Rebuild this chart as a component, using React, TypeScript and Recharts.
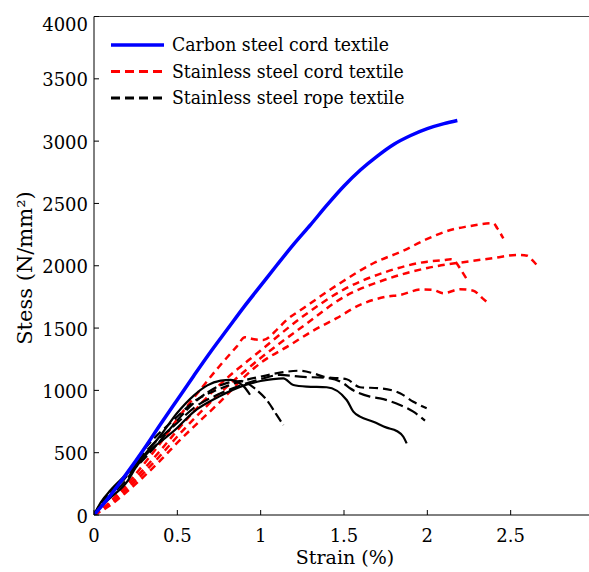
import { LineChart, Line, XAxis, YAxis, ReferenceLine } from 'recharts'

// axis ticks
const strainTicks = [0, 0.5, 1, 1.5, 2, 2.5, 3]
const stressTicks = [0, 500, 1000, 1500, 2000, 2500, 3000, 3500, 4000]

// carbon steel cord textile
const carbonStrain = [0, 0.1, 0.2, 0.3, 0.4, 0.5, 0.6, 0.7, 0.8, 0.9, 1.0, 1.1, 1.2, 1.3, 1.4, 1.5, 1.6, 1.7, 1.8, 1.9, 2.0, 2.1, 2.18]
const carbonStress = [0, 160, 340, 530, 730, 925, 1120, 1310, 1490, 1670, 1840, 2010, 2175, 2330, 2490, 2640, 2770, 2880, 2975, 3045, 3100, 3140, 3165]

// stainless steel cord textile (4 specimens)
const cord1Strain = [0, 0.1, 0.2, 0.3, 0.4, 0.5, 0.636, 0.75, 0.856, 0.906, 0.96, 1.016, 1.106, 1.156, 1.256, 1.476, 1.676, 1.856, 1.996, 2.156, 2.236, 2.396, 2.42, 2.456]
const cord1Stress = [0, 110, 250, 410, 580, 770, 1003, 1190, 1351, 1426, 1410, 1405, 1499, 1565, 1659, 1860, 2020, 2121, 2213, 2293, 2314, 2341, 2300, 2220]
const cord2Strain = [0, 0.1, 0.2, 0.3, 0.4, 0.5, 0.75, 1.0, 1.25, 1.5, 1.75, 2.0, 2.25, 2.4, 2.54, 2.6, 2.63, 2.66]
const cord2Stress = [0, 90, 210, 340, 480, 630, 970, 1260, 1510, 1750, 1890, 1982, 2035, 2062, 2087, 2080, 2045, 2000]
const cord3Strain = [0, 0.1, 0.2, 0.3, 0.4, 0.5, 0.75, 1.0, 1.25, 1.5, 1.75, 2.0, 2.1, 2.14, 2.17, 2.2, 2.245]
const cord3Stress = [0, 100, 230, 370, 520, 680, 1040, 1320, 1590, 1810, 1950, 2033, 2045, 2052, 2030, 1970, 1875]
const cord4Strain = [0, 0.1, 0.2, 0.3, 0.4, 0.5, 0.75, 0.936, 1.0, 1.176, 1.316, 1.456, 1.596, 1.756, 1.836, 1.966, 2.036, 2.096, 2.196, 2.276, 2.33, 2.366]
const cord4Stress = [0, 80, 190, 310, 440, 580, 900, 1150, 1220, 1364, 1480, 1579, 1686, 1752, 1766, 1810, 1806, 1779, 1811, 1800, 1740, 1699]

// stainless steel rope textile (5 specimens)
const rope1Strain = [0, 0.04, 0.1, 0.2, 0.3, 0.4, 0.5, 0.6, 0.68, 0.76, 0.82, 0.87, 0.9, 0.936]
const rope1Stress = [0, 100, 200, 335, 480, 640, 820, 960, 1040, 1078, 1085, 1060, 1030, 965]
const rope2Strain = [0, 0.05, 0.1, 0.2, 0.3, 0.4, 0.5, 0.6, 0.7, 0.8, 0.88, 0.94, 0.976, 1.036, 1.096, 1.136]
const rope2Stress = [0, 110, 190, 320, 450, 600, 760, 900, 1000, 1060, 1075, 1040, 1003, 923, 803, 722]
const rope3Strain = [0, 0.05, 0.1, 0.2, 0.25, 0.5, 0.6, 0.75, 0.9, 1.0, 1.116, 1.236, 1.316, 1.376, 1.516, 1.596, 1.716, 1.836, 1.916, 1.996]
const rope3Stress = [0, 110, 180, 320, 430, 790, 910, 1010, 1080, 1110, 1142, 1158, 1137, 1110, 1089, 1025, 1017, 977, 909, 856]
const rope4Strain = [0, 0.05, 0.1, 0.2, 0.25, 0.5, 0.6, 0.75, 0.9, 1.0, 1.116, 1.236, 1.416, 1.496, 1.536, 1.656, 1.716, 1.836, 1.916, 1.986]
const rope4Stress = [0, 90, 160, 290, 400, 740, 860, 970, 1050, 1090, 1124, 1110, 1097, 1057, 1017, 950, 936, 883, 829, 757]
const rope5Strain = [0, 0.05, 0.1, 0.2, 0.25, 0.5, 0.6, 0.75, 0.9, 1.0, 1.136, 1.196, 1.276, 1.396, 1.516, 1.556, 1.596, 1.676, 1.756, 1.816, 1.856, 1.876]
const rope5Stress = [0, 80, 140, 270, 380, 700, 830, 950, 1040, 1075, 1097, 1043, 1030, 1025, 923, 829, 789, 749, 701, 674, 628, 575]

const zip = (xs: number[], ys: number[]) => xs.map((x, i) => ({ x, y: ys[i] }))

const series = [
  { key: 'cord1', data: zip(cord1Strain, cord1Stress), color: '#ff0000', width: 2.5, dash: '7 5' },
  { key: 'cord2', data: zip(cord2Strain, cord2Stress), color: '#ff0000', width: 2.5, dash: '7 5' },
  { key: 'cord3', data: zip(cord3Strain, cord3Stress), color: '#ff0000', width: 2.5, dash: '7 5' },
  { key: 'cord4', data: zip(cord4Strain, cord4Stress), color: '#ff0000', width: 2.5, dash: '7 5' },
  { key: 'rope1', data: zip(rope1Strain, rope1Stress), color: '#000000', width: 2.2, dash: undefined },
  { key: 'rope2', data: zip(rope2Strain, rope2Stress), color: '#000000', width: 2.2, dash: '10 4' },
  { key: 'rope3', data: zip(rope3Strain, rope3Stress), color: '#000000', width: 2.2, dash: '9 5' },
  { key: 'rope4', data: zip(rope4Strain, rope4Stress), color: '#000000', width: 2.2, dash: '12 5' },
  { key: 'rope5', data: zip(rope5Strain, rope5Stress), color: '#000000', width: 2.2, dash: undefined },
  { key: 'carbon', data: zip(carbonStrain, carbonStress), color: '#0000ff', width: 3.5, dash: undefined },
]

// only DejaVu Serif resolves as a serif face here
const serif = { fontFamily: '"DejaVu Serif", "Liberation Serif", serif' }

function XTick(props: any) {
  const { x, y, payload } = props
  return (
    <g>
      <line x1={x} y1={y} x2={x} y2={y - 5} stroke="#000" />
      <text x={x} y={y + 27} textAnchor="middle" fontSize={18} style={serif} fill="#000">
        {String(payload.value)}
      </text>
    </g>
  )
}

function YTick(props: any) {
  const { x, y, payload } = props
  const base = Math.max(y + 7.5, 30.5)
  return (
    <g>
      <line x1={x} y1={y} x2={x + 5} y2={y} stroke="#000" />
      <text x={x - 6} y={base} textAnchor="end" fontSize={18} style={serif} fill="#000">
        {String(payload.value)}
      </text>
    </g>
  )
}

const legendItems = [
  { label: 'Carbon steel cord textile', color: '#0000ff', dash: undefined, width: 3.5 },
  { label: 'Stainless steel cord textile', color: '#ff0000', dash: '9 5', width: 3 },
  { label: 'Stainless steel rope textile', color: '#000000', dash: '9 5', width: 3 },
]

export default function App() {
  return (
    <div
      style={{
        position: 'fixed',
        left: 0,
        top: 0,
        width: 589,
        height: 572,
        overflow: 'hidden',
        background: '#fff',
      }}
    >
      <LineChart width={600} height={572} margin={{ top: 16.5, right: 6, bottom: 0, left: 0 }}>
        <XAxis
          type="number"
          dataKey="x"
          domain={[0, 3]}
          ticks={strainTicks}
          tickSize={0}
          tickMargin={0}
          tick={<XTick />}
          axisLine={{ stroke: '#000' }}
          height={57}
          allowDataOverflow
        />
        <YAxis
          type="number"
          dataKey="y"
          domain={[0, 4000]}
          ticks={stressTicks}
          tickSize={0}
          tickMargin={0}
          tick={<YTick />}
          axisLine={{ stroke: '#000' }}
          width={94}
          allowDataOverflow
        />
        <ReferenceLine y={4000} stroke="#444" />
        {series.map((s) => (
          <Line
            key={s.key}
            data={s.data}
            dataKey="y"
            type="monotone"
            stroke={s.color}
            strokeWidth={s.width}
            strokeDasharray={s.dash}
            dot={false}
            activeDot={false}
            isAnimationActive={false}
          />
        ))}
      </LineChart>
      <svg
        width={589}
        height={572}
        style={{ position: 'absolute', left: 0, top: 0, pointerEvents: 'none' }}
      >
        {legendItems.map((item, i) => (
          <g key={item.label}>
            <line
              x1={111}
              x2={164}
              y1={45 + i * 26.5}
              y2={45 + i * 26.5}
              stroke={item.color}
              strokeWidth={item.width}
              strokeDasharray={item.dash}
            />
            <text
              transform={`translate(172,${51 + i * 26.5}) scale(0.96,1)`}
              fontSize={18}
              style={serif}
              fill="#000"
            >
              {item.label}
            </text>
          </g>
        ))}
        <text x={345} y={564} textAnchor="middle" fontSize={19} style={serif} fill="#000">
          Strain (%)
        </text>
        <text
          transform="translate(32,268) rotate(-90)"
          textAnchor="middle"
          fontSize={21}
          style={serif}
          fill="#000"
        >
          Stess (N/mm²)
        </text>
      </svg>
    </div>
  )
}
